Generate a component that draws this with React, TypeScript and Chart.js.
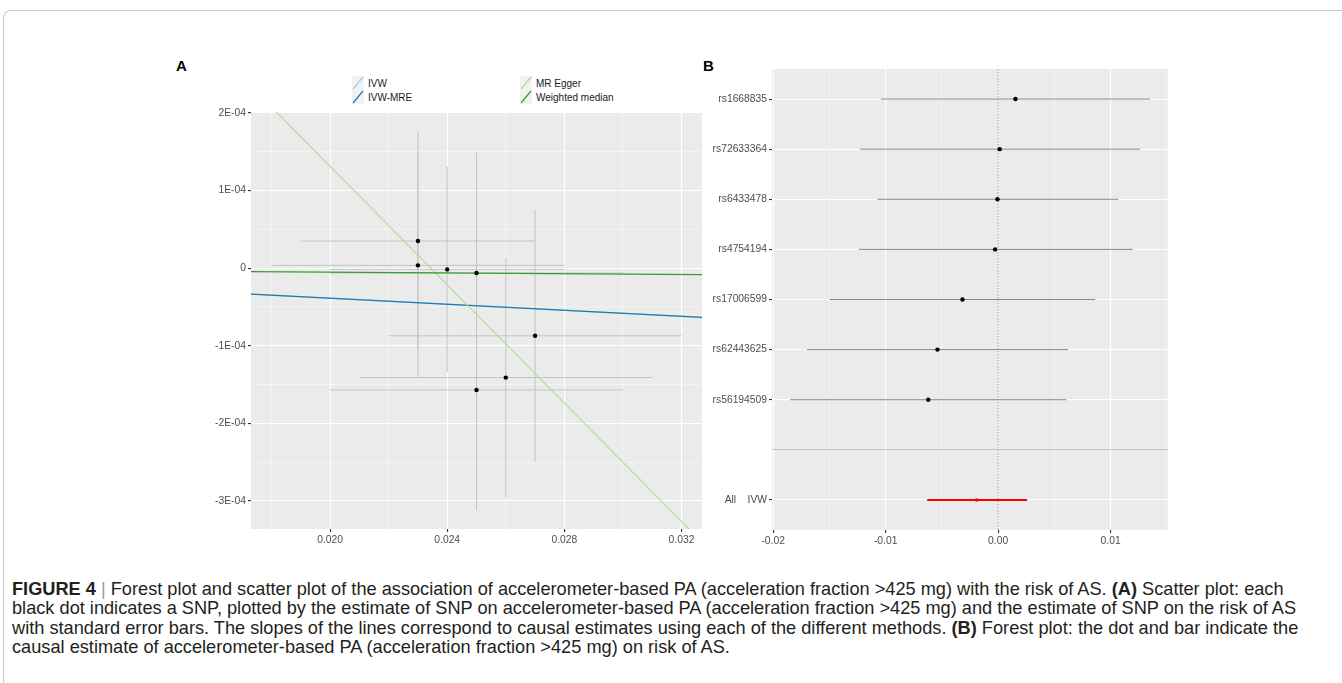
import React, { useEffect, useRef } from "react";
import { Chart, registerables } from "chart.js";
Chart.register(...registerables);

// ---------- Panel A: scatter (SNP effects) ----------
const exposureBeta = [0.023, 0.023, 0.024, 0.025, 0.027, 0.026, 0.025];
const exposureSe = [0.004, 0.005, 0.004, 0.005, 0.005, 0.005, 0.005];
const outcomeBeta = [3.48e-5, 3.5e-6, -1.7e-6, -6.4e-6, -8.72e-5, -1.41e-4, -1.57e-4];
const outcomeSe = [1.41e-4, 1.45e-4, 1.32e-4, 1.55e-4, 1.62e-4, 1.54e-4, 1.55e-4];

const methodNames = ["IVW", "IVW-MRE", "MR Egger", "Weighted median"];
const methodSlopes = [-0.00194, -0.00194, -0.0381, -0.00026];
const methodIntercepts = [0, 0, 8.93e-4, 0];
const methodColors = ["#a6cee3", "#1f78b4", "#b2df8a", "#33a02c"];

const aXMin = 0.0173;
const aXMax = 0.0327;
const aYMin = -3.36e-4;
const aYMax = 2.01e-4;
const aXTickValues = [0.02, 0.024, 0.028, 0.032];
const aXTickLabels = ["0.020", "0.024", "0.028", "0.032"];
const aXMinorValues = [0.018, 0.022, 0.026, 0.03];
const aYTickValues = [-3e-4, -2e-4, -1e-4, 0, 1e-4, 2e-4];
const aYTickLabels = ["-3E-04", "-2E-04", "-1E-04", "0", "1E-04", "2E-04"];
const aYMinorValues = [-2.5e-4, -1.5e-4, -0.5e-4, 0.5e-4, 1.5e-4];

// ---------- Panel B: forest plot ----------
const forestLabels = ["rs1668835", "rs72633364", "rs6433478", "rs4754194", "rs17006599", "rs62443625", "rs56194509", "", "All    IVW"];
const forestEst = [0.00154, 0.00014, -0.00006, -0.00027, -0.00317, -0.00539, -0.00621];
const forestLo = [-0.01042, -0.01225, -0.01074, -0.01237, -0.01497, -0.01699, -0.0185];
const forestHi = [0.01352, 0.01263, 0.01068, 0.01195, 0.00864, 0.00621, 0.00606];
const ivwEst = -0.0019;
const ivwLo = -0.0063;
const ivwHi = 0.00257;

const bXMin = -0.0201;
const bXMax = 0.0151;
const bYMin = 0.4;
const bYMax = 9.6;
const bXTickValues = [-0.02, -0.01, 0, 0.01];
const bXTickLabels = ["-0.02", "-0.01", "0.00", "0.01"];
const bXMinorValues = [-0.015, -0.005, 0.005, 0.015];
const bYTickValues = [1, 2, 3, 4, 5, 6, 7, 8, 9];
const bSeparatorValue = 8;

const FONT = "'Liberation Sans', Arial, Helvetica, sans-serif";

const panelBg = {
  id: "panelBg",
  beforeDraw(chart: any) {
    const { ctx, chartArea: a } = chart;
    ctx.save();
    ctx.fillStyle = "#ebebeb";
    ctx.fillRect(a.left, a.top, a.right - a.left, a.bottom - a.top);
    ctx.restore();
  },
};

const isIn = (arr: number[], v: number) => arr.some((m) => Math.abs(m - v) < 1e-9);

function makeScale(o: {
  min: number;
  max: number;
  majors: number[];
  labels: string[];
  minors: number[];
  axis: "x" | "y";
  size: number;
  reverse?: boolean;
  special?: number;
}) {
  return {
    type: "linear",
    min: o.min,
    max: o.max,
    reverse: !!o.reverse,
    afterBuildTicks: (s: any) => {
      s.ticks = [...o.majors, ...o.minors].sort((a, b) => a - b).map((v) => ({ value: v }));
    },
    afterFit: (s: any) => {
      if (o.axis === "y") s.width = o.size;
      else s.height = o.size;
    },
    border: { display: false },
    grid: {
      color: (c: any) => {
        const v = c.tick ? c.tick.value : NaN;
        if (o.special !== undefined && Math.abs(v - o.special) < 1e-9) return "#c4c4c4";
        return isIn(o.majors, v) ? "#ffffff" : "rgba(255,255,255,0.75)";
      },
      lineWidth: (c: any) => (c.tick && isIn(o.majors, c.tick.value) ? 1.1 : 0.55),
      tickColor: (c: any) => {
        const v = c.tick ? c.tick.value : NaN;
        if (o.special !== undefined && Math.abs(v - o.special) < 1e-9) return "rgba(0,0,0,0)";
        return isIn(o.majors, v) ? "#333333" : "rgba(0,0,0,0)";
      },
      tickLength: 3,
      drawTicks: true,
    },
    ticks: {
      autoSkip: false,
      maxRotation: 0,
      minRotation: 0,
      padding: 2,
      color: "#4d4d4d",
      font: { family: FONT, size: 10.3 },
      callback: (v: number) => {
        const i = o.majors.findIndex((m) => Math.abs(m - v) < 1e-9);
        return i >= 0 ? o.labels[i] : "";
      },
    },
  };
}

function configA(): any {
  const ds: any[] = [];
  exposureBeta.forEach((bx, i) => {
    const by = outcomeBeta[i];
    const common = { type: "line", borderColor: "#c3c3c3", borderWidth: 1, pointRadius: 0, showLine: true, order: 5 };
    ds.push({ ...common, data: [{ x: bx - exposureSe[i], y: by }, { x: bx + exposureSe[i], y: by }] });
    ds.push({ ...common, data: [{ x: bx, y: by - outcomeSe[i] }, { x: bx, y: by + outcomeSe[i] }] });
  });
  methodNames.forEach((n, i) => {
    ds.push({
      type: "line",
      label: n,
      data: [aXMin, aXMax].map((x) => ({ x, y: methodIntercepts[i] + methodSlopes[i] * x })),
      borderColor: methodColors[i],
      borderWidth: i === 3 ? 1.3 : 1.1,
      pointRadius: 0,
      showLine: true,
      order: 4 - i * 0.1,
    });
  });
  ds.push({
    type: "scatter",
    data: exposureBeta.map((x, i) => ({ x, y: outcomeBeta[i] })),
    pointRadius: 2.2,
    backgroundColor: "#000",
    borderWidth: 0,
    order: 0,
  });
  return {
    type: "scatter",
    data: { datasets: ds },
    plugins: [panelBg],
    options: {
      responsive: false,
      animation: false,
      devicePixelRatio: 1,
      events: [],
      layout: { padding: { left: 0, right: 8, top: 12, bottom: 0 } },
      plugins: { legend: { display: false }, tooltip: { enabled: false } },
      scales: {
        x: makeScale({ min: aXMin, max: aXMax, majors: aXTickValues, labels: aXTickLabels, minors: aXMinorValues, axis: "x", size: 31 }),
        y: makeScale({ min: aYMin, max: aYMax, majors: aYTickValues, labels: aYTickLabels, minors: aYMinorValues, axis: "y", size: 81 }),
      },
    },
  };
}

function configB(): any {
  const ds: any[] = [];
  ds.push({
    type: "line",
    data: [{ x: 0, y: bYMin }, { x: 0, y: bYMax }],
    borderColor: "#9a9a9a",
    borderWidth: 1,
    borderDash: [1.5, 1.5],
    pointRadius: 0,
    showLine: true,
    order: 6,
  });
  forestEst.forEach((e, i) => {
    ds.push({
      type: "line",
      data: [{ x: forestLo[i], y: i + 1 }, { x: forestHi[i], y: i + 1 }],
      borderColor: "#888888",
      borderWidth: 1,
      pointRadius: 0,
      showLine: true,
      order: 5,
    });
  });
  ds.push({
    type: "line",
    data: [{ x: ivwLo, y: 9 }, { x: ivwHi, y: 9 }],
    borderColor: "#ff0000",
    borderWidth: 2,
    pointRadius: 0,
    showLine: true,
    order: 4,
  });
  ds.push({
    type: "scatter",
    data: forestEst.map((x, i) => ({ x, y: i + 1 })),
    pointRadius: 2.2,
    backgroundColor: "#000",
    borderWidth: 0,
    order: 0,
  });
  ds.push({
    type: "scatter",
    data: [{ x: ivwEst, y: 9 }],
    pointRadius: 1.8,
    backgroundColor: "#ff0000",
    borderWidth: 0,
    order: 0,
  });
  return {
    type: "scatter",
    data: { datasets: ds },
    plugins: [panelBg],
    options: {
      responsive: false,
      animation: false,
      devicePixelRatio: 1,
      events: [],
      layout: { padding: { left: 0, right: 12, top: 14, bottom: 0 } },
      plugins: { legend: { display: false }, tooltip: { enabled: false } },
      scales: {
        x: makeScale({ min: bXMin, max: bXMax, majors: bXTickValues, labels: bXTickLabels, minors: bXMinorValues, axis: "x", size: 30 }),
        y: makeScale({ min: bYMin, max: bYMax, majors: bYTickValues, labels: forestLabels, minors: [], axis: "y", size: 72, reverse: true, special: bSeparatorValue }),
      },
    },
  };
}

function LegendKey({ color }: { color: string }) {
  return (
    <svg width={12} height={14} style={{ display: "block" }}>
      <rect x={0} y={0} width={12} height={14} fill="#f2f2f2" />
      <line x1={1} y1={13} x2={11} y2={1} stroke={color} strokeWidth={1.2} />
    </svg>
  );
}

const legendPos = [
  { left: 352, top: 76 },
  { left: 352, top: 90 },
  { left: 520, top: 76 },
  { left: 520, top: 90 },
];

export default function App() {
  const aRef = useRef<HTMLCanvasElement>(null);
  const bRef = useRef<HTMLCanvasElement>(null);

  useEffect(() => {
    const ca = new Chart(aRef.current as HTMLCanvasElement, configA());
    const cb = new Chart(bRef.current as HTMLCanvasElement, configB());
    return () => {
      ca.destroy();
      cb.destroy();
    };
  }, []);

  const capStyle: React.CSSProperties = { whiteSpace: "nowrap", height: 19.4 };

  return (
    <div style={{ position: "absolute", left: 0, top: 0, width: 1342, height: 683, background: "#fff", overflow: "hidden", fontFamily: FONT }}>
      <div style={{ position: "absolute", left: 3, top: 10, width: 1400, height: 700, borderTop: "1px solid #c8c8c8", borderLeft: "1px solid #c8c8c8", borderTopLeftRadius: 8 }} />
      <div style={{ position: "absolute", left: 176, top: 57, fontWeight: "bold", fontSize: 15, color: "#000" }}>A</div>
      <div style={{ position: "absolute", left: 703, top: 57, fontWeight: "bold", fontSize: 15, color: "#000" }}>B</div>
      {methodNames.map((n, i) => (
        <div key={n} style={{ position: "absolute", left: legendPos[i].left, top: legendPos[i].top, display: "flex", alignItems: "center", height: 14 }}>
          <LegendKey color={methodColors[i]} />
          <span style={{ marginLeft: 4, fontSize: 10, color: "#1a1a1a" }}>{n}</span>
        </div>
      ))}
      <canvas ref={aRef} width={540} height={460} style={{ position: "absolute", left: 170, top: 100, width: 540, height: 460 }} />
      <canvas ref={bRef} width={480} height={505} style={{ position: "absolute", left: 700, top: 55, width: 480, height: 505 }} />
      <div style={{ position: "absolute", left: 12, top: 580, fontSize: 18.2, lineHeight: "19.4px", color: "#231f20" }}>
        <div style={capStyle}>
          <b>FIGURE 4</b> <span style={{ color: "#9a9a9a" }}>|</span> Forest plot and scatter plot of the association of accelerometer-based PA (acceleration fraction &gt;425 mg) with the risk of AS. <b>(A)</b> Scatter plot: each
        </div>
        <div style={capStyle}>
          black dot indicates a SNP, plotted by the estimate of SNP on accelerometer-based PA (acceleration fraction &gt;425 mg) and the estimate of SNP on the risk of AS
        </div>
        <div style={capStyle}>
          with standard error bars. The slopes of the lines correspond to causal estimates using each of the different methods. <b>(B)</b> Forest plot: the dot and bar indicate the
        </div>
        <div style={capStyle}>causal estimate of accelerometer-based PA (acceleration fraction &gt;425 mg) on risk of AS.</div>
      </div>
    </div>
  );
}
